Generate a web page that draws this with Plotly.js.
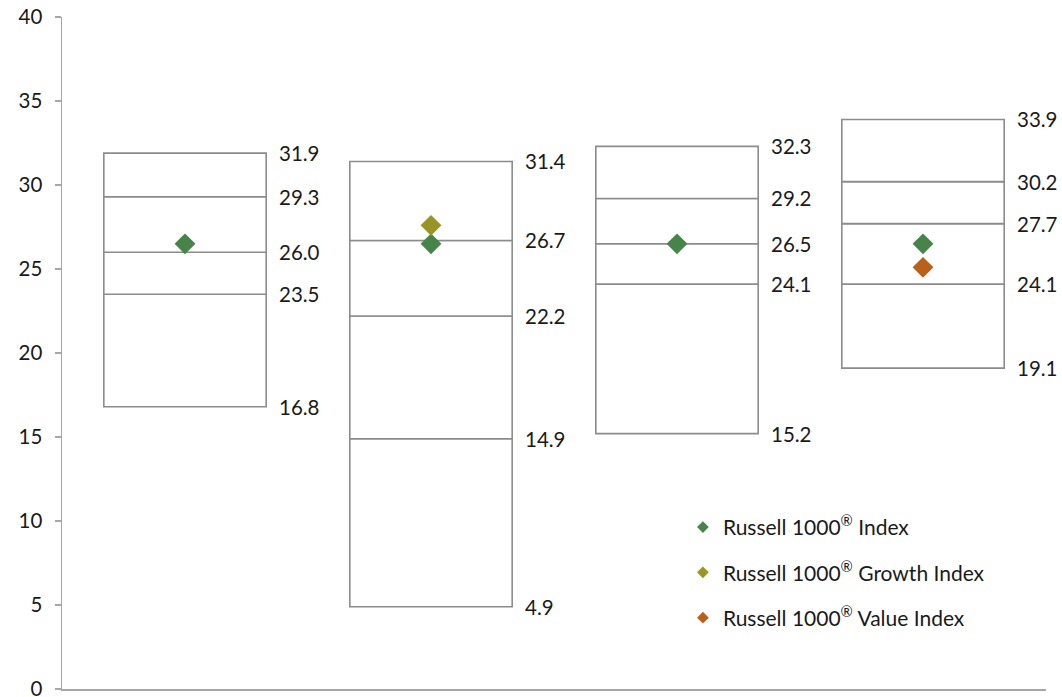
<!DOCTYPE html>
<html>
<head>
<meta charset="utf-8">
<script src="https://cdn.plot.ly/plotly-3.0.1.min.js"></script>
<style>
  html, body { margin: 0; padding: 0; background: #fff; }
  #chart { width: 1062px; height: 697px; }
</style>
</head>
<body>
<div id="chart"></div>
<script>
// Percentile bands for each of the four groups (bottom to top)
const groups = [0, 1, 2, 3];
const p5  = [16.8,  4.9, 15.2, 19.1];
const p25 = [23.5, 14.9, 24.1, 24.1];
const p50 = [26.0, 22.2, 26.5, 27.7];
const p75 = [29.3, 26.7, 29.2, 30.2];
const p95 = [31.9, 31.4, 32.3, 33.9];

// Index values plotted as diamonds
const russell1000       = [26.5, 26.5, 26.5, 26.5];
const russell1000Growth = [null, 27.6, null, null];
const russell1000Value  = [null, null, null, 25.1];

const seriesNames = [
  'Russell 1000<sup>®</sup> Index',
  'Russell 1000<sup>®</sup> Growth Index',
  'Russell 1000<sup>®</sup> Value Index'
];
const seriesColors = ['#468449', '#999524', '#b9601b'];

const FONT = 'Lato, "Source Sans Pro", "Noto Sans", sans-serif';
const BOX_LINE = '#8c8c8c';
const BOX_WIDTH = 0.66;

const bands = [p5, p25, p50, p75, p95];
const traces = [];

// Stacked white segments, one trace per band interval
for (let k = 0; k < bands.length - 1; k++) {
  traces.push({
    type: 'bar',
    x: groups,
    base: bands[k],
    y: groups.map(i => bands[k + 1][i] - bands[k][i]),
    width: BOX_WIDTH,
    marker: { color: '#ffffff', line: { color: BOX_LINE, width: 1.6 } },
    showlegend: false,
    hoverinfo: 'skip'
  });
}

// Diamonds on the chart
[russell1000, russell1000Growth, russell1000Value].forEach((vals, s) => {
  traces.push({
    type: 'scatter', mode: 'markers',
    x: groups, y: vals,
    marker: { symbol: 'diamond', size: 16, color: seriesColors[s] },
    showlegend: false,
    cliponaxis: false
  });
});

// Legend entries with smaller diamonds
seriesNames.forEach((name, s) => {
  traces.push({
    type: 'scatter', mode: 'markers',
    x: [null], y: [null],
    name: name,
    legendgroup: 'g' + s,
    marker: { symbol: 'diamond', size: 9, color: seriesColors[s] }
  });
});

// Value labels to the right of each box
const annotations = [];
bands.forEach(band => {
  groups.forEach(i => {
    annotations.push({
      x: i + BOX_WIDTH / 2, y: band[i],
      xref: 'x', yref: 'y',
      text: band[i].toFixed(1),
      showarrow: false,
      xanchor: 'left', yanchor: 'middle',
      xshift: 11,
      font: { family: FONT, size: 20.5, color: '#1a1a1a' }
    });
  });
});

const layout = {
  width: 1062, height: 697,
  margin: { l: 62, r: 16, t: 17, b: 8 },
  paper_bgcolor: '#ffffff', plot_bgcolor: '#ffffff',
  barmode: 'overlay',
  font: { family: FONT, size: 20, color: '#1a1a1a' },
  xaxis: {
    range: [-0.5, 3.5],
    showticklabels: false, ticks: '',
    showgrid: false, zeroline: false,
    showline: true, linecolor: '#a6a6a6', linewidth: 1.5,
    fixedrange: true
  },
  yaxis: {
    range: [0, 40], dtick: 5, tick0: 0,
    showgrid: false, zeroline: false,
    showline: true, linecolor: '#a6a6a6', linewidth: 1.5,
    ticks: 'outside', ticklen: 6, tickcolor: '#a6a6a6', tickwidth: 1.5,
    ticklabelstandoff: 8,
    ticklabeloverflow: 'allow',
    tickfont: { family: FONT, size: 20.5, color: '#1a1a1a' },
    fixedrange: true
  },
  legend: {
    x: 0.631, y: 0.271, xanchor: 'left', yanchor: 'top',
    bgcolor: 'rgba(0,0,0,0)',
    traceorder: 'grouped', tracegroupgap: 15,
    font: { family: FONT, size: 21, color: '#1a1a1a' }
  },
  annotations: annotations,
  showlegend: true
};

Plotly.newPlot('chart', traces, layout, { displayModeBar: false, staticPlot: true });
</script>
</body>
</html>
